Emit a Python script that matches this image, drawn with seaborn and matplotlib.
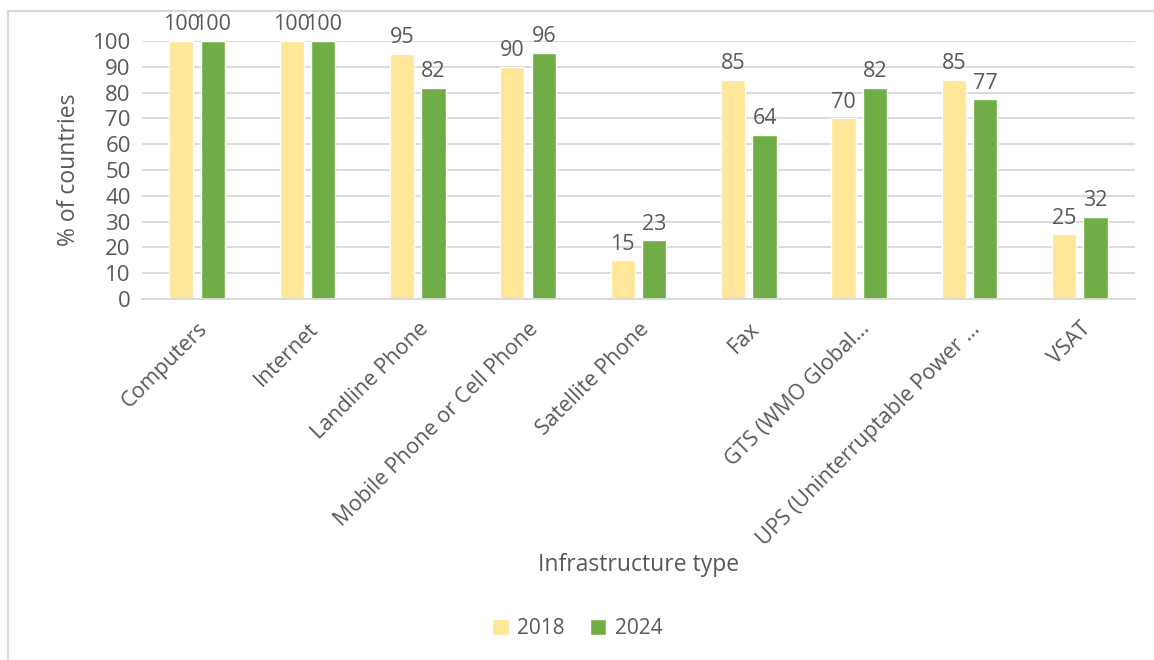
import pandas as pd
import seaborn as sns
import matplotlib.pyplot as plt
from matplotlib.patches import Rectangle

categories = ["Computers", "Internet", "Landline Phone", "Mobile Phone or Cell Phone",
              "Satellite Phone", "Fax", "GTS (WMO Global…", "UPS (Uninterruptable Power …", "VSAT"]
years = ["2018", "2024"]
values_2018 = [100, 100, 95, 90, 15, 85, 70, 85, 25]
values_2024 = [100, 100, 81.8, 95.5, 22.7, 63.6, 81.8, 77.3, 31.8]

df = pd.DataFrame({
    "category": categories * 2,
    "year": [years[0]] * len(categories) + [years[1]] * len(categories),
    "value": values_2018 + values_2024,
})

sns.set_style("white")
plt.rcParams['font.family'] = ['Open Sans', 'DejaVu Sans']
text_color = "#595959"

fig = plt.figure(figsize=(11.54, 6.60), dpi=100)
ax = fig.add_axes([0.123, 0.547, 0.8605, 0.391])

sns.barplot(data=df, x="category", y="value", hue="year",
            palette={"2018": "#FFE699", "2024": "#70AD47"}, saturation=1,
            width=0.57, gap=0.23, ax=ax, legend=True)

for c in ax.containers:
    ax.bar_label(c, fmt="%.0f", fontsize=15.5, color=text_color, padding=4)

ax.set_ylim(0, 100)
ax.set_yticks(range(0, 101, 10))
ax.set_xlim(-0.5, len(categories) - 0.5)
ax.yaxis.grid(True, color="#D9D9D9", linewidth=1.3)
ax.set_axisbelow(True)
for s in ["top", "right", "left"]:
    ax.spines[s].set_visible(False)
ax.spines["bottom"].set_color("#D9D9D9")
ax.spines["bottom"].set_linewidth(1.3)
ax.tick_params(axis="y", length=0, labelsize=16, colors=text_color, pad=8)
ax.tick_params(axis="x", length=0, labelsize=15.5, colors=text_color, pad=14)
plt.setp(ax.get_xticklabels(), rotation=45, ha="right", rotation_mode="anchor")

ax.set_xlabel("Infrastructure type", fontsize=16.5, color=text_color)
ax.xaxis.set_label_coords(0.5, -0.985)
ax.set_ylabel("% of countries", fontsize=16.5, color=text_color, labelpad=8)

handles, labels = ax.get_legend_handles_labels()
ax.legend_.remove()
fig.legend(handles, labels, loc="center", bbox_to_anchor=(0.5, 0.048), ncol=2,
           frameon=False, fontsize=15, labelcolor=text_color,
           handlelength=0.8, handleheight=0.8, handletextpad=0.4, columnspacing=1.2)

fig.patches.append(Rectangle((8 / 1154, -0.1), 1.2, 1.1 - 11 / 660,
                             transform=fig.transFigure, fill=False,
                             edgecolor="#D9D9D9", linewidth=1.5))

fig.savefig("out.png", dpi=100)
